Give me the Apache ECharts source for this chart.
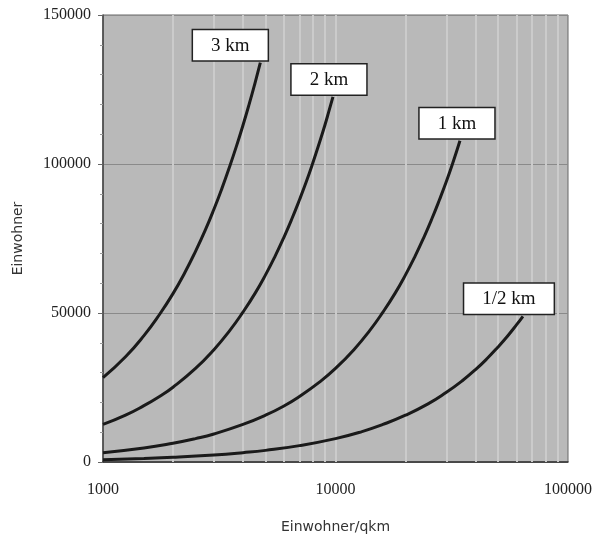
<!DOCTYPE html>
<html style='height: 100%'>
<head>
    <meta charset='utf-8'>
</head>
<body style='height: 100%; margin: 0; background: #fff'>
    <div id='container' style='height: 100%'></div>
    <script type='text/javascript' src='https://cdn.jsdelivr.net/npm/echarts@6/dist/echarts.min.js'></script>
    <script type="text/javascript">

// Werte (Einwohner/qkm -> Einwohner im Umkreis)
var names = ['3 km', '2 km', '1 km', '1/2 km'];

var dens3km  = [1000, 1250, 1500, 1750, 2000, 2250, 2500, 2750, 3000, 3250, 3500, 3750, 4000, 4250, 4500, 4750];
var pop3km   = [28300, 35300, 42400, 49500, 56500, 63600, 70700, 77700, 84800, 91900, 99000, 106000, 113000, 120000, 127000, 134000];

var dens2km  = [1000, 1250, 1500, 1750, 2000, 2500, 3000, 3500, 4000, 4500, 5000, 5500, 6000, 6500, 7000, 7500, 8000, 8500, 9000, 9375, 9750];
var pop2km   = [12600, 15700, 18900, 22000, 25100, 31400, 37700, 44000, 50300, 56500, 62800, 69100, 75400, 81700, 88000, 94200, 100500, 106800, 113000, 117800, 122500];

var dens1km  = [1000, 1500, 2000, 2500, 3000, 4000, 5000, 6000, 7000, 8500, 10000, 12000, 14000, 16000, 18000, 20000, 22000, 24000, 26000, 28000, 30000, 32000, 34300];
var pop1km   = [3140, 4700, 6300, 7850, 9400, 12600, 15700, 18800, 22000, 26700, 31400, 37700, 44000, 50300, 56500, 62800, 69100, 75400, 81700, 88000, 94200, 100500, 107800];

var densHalf = [1000, 1500, 2000, 3000, 4000, 5000, 7000, 10000, 13000, 16000, 20000, 25000, 30000, 35000, 40000, 45000, 50000, 55000, 60000, 64000];
var popHalf  = [790, 1180, 1570, 2360, 3140, 3900, 5500, 7850, 10200, 12600, 15700, 19500, 23400, 27200, 31000, 34800, 38600, 42300, 46000, 48900];

var xGridLines = [2000, 3000, 4000, 5000, 6000, 7000, 8000, 9000, 10000,
                  20000, 30000, 40000, 50000, 60000, 70000, 80000, 90000];

// label box offsets relative to the last point
var labelOffsets = [[-30, 0], [-4, 0], [-3, 0], [-14, 0]];

var dom = document.getElementById("container");
var myChart = echarts.init(dom);

function makeSeries(idx, xs, ys) {
    var last = xs.length - 1;
    return {
        name: names[idx],
        type: 'line',
        data: xs.map(function (x, i) { return [x, ys[i]]; }),
        smooth: 0.5,
        symbol: 'none',
        showSymbol: false,
        lineStyle: { color: '#1a1a1a', width: 3 },
        z: 5,
        markPoint: {
            silent: true,
            symbol: 'circle',
            symbolSize: 1,
            itemStyle: { color: 'rgba(0,0,0,0)' },
            label: {
                show: true,
                position: 'top',
                distance: 2,
                offset: labelOffsets[idx],
                formatter: names[idx],
                fontFamily: 'Liberation Serif',
                fontSize: 19,
                color: '#111',
                backgroundColor: '#fff',
                borderColor: '#222',
                borderWidth: 1.5,
                padding: [6, 18, 5, 18]
            },
            data: [{ coord: [xs[last], ys[last]] }]
        }
    };
}

var series = [
    makeSeries(0, dens3km, pop3km),
    makeSeries(1, dens2km, pop2km),
    makeSeries(2, dens1km, pop1km),
    makeSeries(3, densHalf, popHalf)
];

// helle senkrechte Gitterlinien
series.push({
    type: 'line',
    data: [],
    silent: true,
    markLine: {
        silent: true,
        symbol: 'none',
        label: { show: false },
        lineStyle: { color: '#cbcbcb', width: 2, type: 'solid' },
        data: xGridLines.map(function (v) { return { xAxis: v }; })
    },
    z: 1
});

function plain(v) { return String(v); }

option = {
    animation: false,
    grid: {
        left: 103, right: 25, top: 15, bottom: 76,
        show: true,
        backgroundColor: '#b9b9b9',
        borderColor: '#666',
        borderWidth: 1
    },
    xAxis: {
        type: 'log',
        logBase: 10,
        min: 1000,
        max: 100000,
        name: 'Einwohner/qkm',
        nameLocation: 'middle',
        nameGap: 58,
        nameTextStyle: { fontFamily: 'DejaVu Sans', fontSize: 14, color: '#333' },
        axisLine: { lineStyle: { color: '#333', width: 1.5 } },
        axisTick: { show: false },
        splitLine: { show: false },
        axisLabel: {
            fontFamily: 'Liberation Serif', fontSize: 16, color: '#222', margin: 20,
            showMinLabel: true, showMaxLabel: true, formatter: plain
        }
    },
    yAxis: {
        type: 'value',
        min: 0,
        max: 150000,
        interval: 50000,
        name: 'Einwohner',
        nameLocation: 'middle',
        nameGap: 78,
        nameTextStyle: { fontFamily: 'DejaVu Sans', fontSize: 14, color: '#333' },
        axisLine: { show: true, lineStyle: { color: '#444', width: 1.5 } },
        axisTick: { show: true, length: 5, lineStyle: { color: '#666' } },
        minorTick: { show: true, splitNumber: 5, length: 3, lineStyle: { color: '#999' } },
        splitLine: { show: true, lineStyle: { color: '#8a8a8a', width: 1 } },
        axisLabel: { fontFamily: 'Liberation Serif', fontSize: 16, color: '#222', margin: 12, formatter: plain }
    },
    series: series
};

if (option && typeof option === "object") {
    myChart.setOption(option, true);
}
    </script>
</body>
</html>
